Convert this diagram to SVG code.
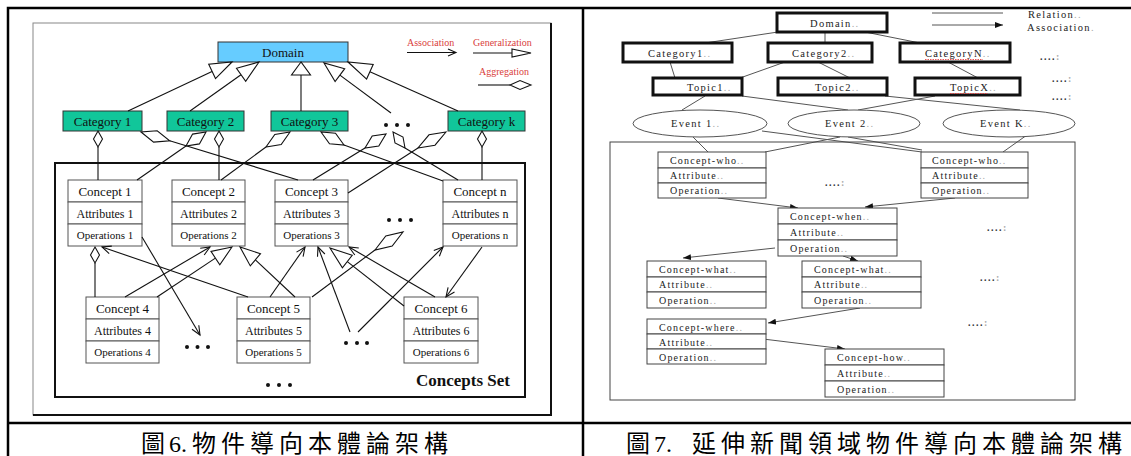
<svg xmlns="http://www.w3.org/2000/svg" width="1131" height="456" viewBox="0 0 1131 456">
  <style>
    .tbl { fill: none; stroke: #000; stroke-width: 2.5; }
    .frame { fill: none; stroke: #888; stroke-width: 1; }
    .shadow { fill: none; stroke: #111; stroke-width: 2; }
    .lt { font-family: "Liberation Serif", serif; font-size: 13px; fill: #111; text-anchor: middle; }
    .ls { font-size: 11px; }
    .la { font-size: 12px; }
    .leg { font-family: "Liberation Serif", serif; font-size: 10px; fill: #d9413c; }
    .dom { fill: #66ccff; stroke: #333; stroke-width: 1; }
    .cat { fill: #11c69a; stroke: #333; stroke-width: 1; }
    .cbox { fill: #fff; stroke: #555; stroke-width: 1; }
    .cset { fill: none; stroke: #111; stroke-width: 2; }
    .ln { fill: none; stroke: #111; stroke-width: 1.1; }
    .gen, .agg { fill: #fff; stroke: #111; stroke-width: 1.1; }
    .asc { fill: none; stroke: #111; stroke-width: 1.1; }
    .dot { fill: #111; }
    .bold { font-weight: bold; font-size: 17px; }
    .rt { font-family: "Liberation Serif", serif; font-size: 10.5px; fill: #222; letter-spacing: 1.3px; }
    .rc { font-size: 10px; letter-spacing: 1.2px; }
    .pm { fill: #aaa; }
    .hbox { fill: #fff; stroke: #111; stroke-width: 3; }
    .rbox { fill: #fff; stroke: #444; stroke-width: 1; }
    .ev { fill: #fff; stroke: #555; stroke-width: 1; }
    .rl { fill: none; stroke: #555; stroke-width: 1; }
    .rfr { fill: none; stroke: #444; stroke-width: 1; }
    .ldr { font-family: "Liberation Serif", serif; font-size: 10px; font-weight: bold; fill: #333; letter-spacing: 1.5px; }
    .squig { fill: none; stroke: #e03030; stroke-width: 0.8; stroke-dasharray: 1.5 1; }
    .cap { font-family: "Liberation Serif", "Noto Sans CJK TC", serif; font-size: 24px; fill: #000; }
    .cj { letter-spacing: 5px; }
  </style>
  <defs>
    <marker id="fill-arrow" viewBox="0 0 8 6" refX="8" refY="3" markerWidth="8" markerHeight="6" markerUnits="userSpaceOnUse" orient="auto">
      <path d="M0,0 L8,3 L0,6 z" fill="#111"/>
    </marker>
  </defs>

  <rect width="1131" height="456" fill="#fff"/>

  <!-- table grid -->
  <g id="table">
    <path class="tbl" d="M8,470 V8 H1135"/>
    <path class="tbl" d="M583,8 V470"/>
    <path class="tbl" d="M8,423 H1135"/>
  </g>

  <!-- ===== Figure 6: object-oriented ontology ===== -->
  <g id="fig6">
    <rect class="frame" x="33" y="23" width="518" height="392"/>
    <path class="shadow" d="M551,23 V415 H33"/>

    <g id="legend6">
      <text class="leg" x="407" y="46">Association</text>
      <path class="ln" d="M407,52.5 H455"/>
      <path class="asc" d="M448,49 L456,52.5 L448,56"/>
      <text class="leg" x="473" y="46">Generalization</text>
      <path class="ln" d="M473,53 H512"/>
      <polygon class="gen" points="512,49 531,53 512,57"/>
      <text class="leg" x="479" y="75">Aggregation</text>
      <path class="ln" d="M478,85 H510"/>
      <polygon class="agg" points="510,85 520,80.5 531,85 520,89.5"/>
    </g>

    <g id="n-domain">
      <rect class="dom" x="218" y="42" width="130" height="20"/>
      <text class="lt" x="283" y="56.5">Domain</text>
    </g>
    <g id="n-cat1">
      <rect class="cat" x="63" y="111" width="79" height="20"/>
      <text class="lt" x="102.5" y="125.5">Category 1</text>
    </g>
    <g id="n-cat2">
      <rect class="cat" x="167" y="111" width="77" height="20"/>
      <text class="lt" x="205.5" y="125.5">Category 2</text>
    </g>
    <g id="n-cat3">
      <rect class="cat" x="271" y="111" width="77" height="20"/>
      <text class="lt" x="309.5" y="125.5">Category 3</text>
    </g>
    <g id="n-catdots">
      <circle class="dot" cx="386" cy="125" r="2"/>
      <circle class="dot" cx="397" cy="125" r="2"/>
      <circle class="dot" cx="408" cy="125" r="2"/>
    </g>
    <g id="n-catk">
      <rect class="cat" x="448" y="111" width="77" height="20"/>
      <text class="lt" x="486.5" y="125.5">Category k</text>
    </g>

    <g id="n-conceptset">
      <rect class="cset" x="55" y="163" width="470" height="234"/>
      <text class="lt bold" x="463" y="386">Concepts Set</text>
    </g>

    <g id="n-concept1">
      <rect class="cbox" x="68" y="180" width="74" height="22"/>
      <rect class="cbox" x="68" y="202" width="74" height="22"/>
      <rect class="cbox" x="68" y="224" width="74" height="22"/>
      <text class="lt" x="105" y="195.5">Concept 1</text>
      <text class="lt la" x="105" y="217.5">Attributes 1</text>
      <text class="lt ls" x="105" y="239">Operations 1</text>
    </g>
    <g id="n-concept2">
      <rect class="cbox" x="172" y="180" width="73" height="22"/>
      <rect class="cbox" x="172" y="202" width="73" height="22"/>
      <rect class="cbox" x="172" y="224" width="73" height="22"/>
      <text class="lt" x="208.5" y="195.5">Concept 2</text>
      <text class="lt la" x="208.5" y="217.5">Attributes 2</text>
      <text class="lt ls" x="208.5" y="239">Operations 2</text>
    </g>
    <g id="n-concept3">
      <rect class="cbox" x="275" y="180" width="73" height="22"/>
      <rect class="cbox" x="275" y="202" width="73" height="22"/>
      <rect class="cbox" x="275" y="224" width="73" height="22"/>
      <text class="lt" x="311.5" y="195.5">Concept 3</text>
      <text class="lt la" x="311.5" y="217.5">Attributes 3</text>
      <text class="lt ls" x="311.5" y="239">Operations 3</text>
    </g>
    <g id="n-conceptn">
      <rect class="cbox" x="443" y="180" width="74" height="22"/>
      <rect class="cbox" x="443" y="202" width="74" height="22"/>
      <rect class="cbox" x="443" y="224" width="74" height="22"/>
      <text class="lt" x="480" y="195.5">Concept n</text>
      <text class="lt la" x="480" y="217.5">Attributes n</text>
      <text class="lt ls" x="480" y="239">Operations n</text>
    </g>
    <g id="n-concept4">
      <rect class="cbox" x="86" y="297" width="73" height="22"/>
      <rect class="cbox" x="86" y="319" width="73" height="22"/>
      <rect class="cbox" x="86" y="341" width="73" height="22"/>
      <text class="lt" x="122.5" y="312.5">Concept 4</text>
      <text class="lt la" x="122.5" y="334.5">Attributes 4</text>
      <text class="lt ls" x="122.5" y="356">Operations 4</text>
    </g>
    <g id="n-concept5">
      <rect class="cbox" x="237" y="297" width="73" height="22"/>
      <rect class="cbox" x="237" y="319" width="73" height="22"/>
      <rect class="cbox" x="237" y="341" width="73" height="22"/>
      <text class="lt" x="273.5" y="312.5">Concept 5</text>
      <text class="lt la" x="273.5" y="334.5">Attributes 5</text>
      <text class="lt ls" x="273.5" y="356">Operations 5</text>
    </g>
    <g id="n-concept6">
      <rect class="cbox" x="404" y="297" width="74" height="22"/>
      <rect class="cbox" x="404" y="319" width="74" height="22"/>
      <rect class="cbox" x="404" y="341" width="74" height="22"/>
      <text class="lt" x="441" y="312.5">Concept 6</text>
      <text class="lt la" x="441" y="334.5">Attributes 6</text>
      <text class="lt ls" x="441" y="356">Operations 6</text>
    </g>
    <g id="n-dots-mid">
      <circle class="dot" cx="389" cy="220" r="2"/>
      <circle class="dot" cx="400" cy="220" r="2"/>
      <circle class="dot" cx="411" cy="220" r="2"/>
    </g>
    <g id="n-dots-c4">
      <circle class="dot" cx="187" cy="347" r="2"/>
      <circle class="dot" cx="197.5" cy="347" r="2"/>
      <circle class="dot" cx="208" cy="347" r="2"/>
    </g>
    <g id="n-dots-c56">
      <circle class="dot" cx="346" cy="343" r="2"/>
      <circle class="dot" cx="357" cy="343" r="2"/>
      <circle class="dot" cx="367" cy="343" r="2"/>
    </g>
    <g id="n-dots-bottom">
      <circle class="dot" cx="268" cy="385" r="2"/>
      <circle class="dot" cx="279" cy="385" r="2"/>
      <circle class="dot" cx="290" cy="385" r="2"/>
    </g>

    <g id="edges6">
      <!-- generalization: categories to domain -->
      <path class="ln" d="M128,111 L212,71.4"/>
      <polygon class="gen" points="232,62 215.5,78.6 208.7,64.2"/>
      <path class="ln" d="M190,111 L241,74.7"/>
      <polygon class="gen" points="259,62 245.7,81.2 236.5,68.2"/>
      <path class="ln" d="M301,111 V75"/>
      <polygon class="gen" points="301,62 291.5,75 310.5,75"/>
      <path class="ln" d="M391,113 L339.9,75.1"/>
      <polygon class="gen" points="324,63 335.1,81.5 344.7,68.7"/>
      <path class="ln" d="M458,111 L369.9,71.8"/>
      <polygon class="gen" points="348,62 366.6,79.1 373.2,64.5"/>

      <!-- aggregation: categories to concepts -->
      <path class="ln" d="M98,147 V180"/>
      <polygon class="agg" points="98,131 102.5,139 98,147 93.5,139"/>
      <path class="ln" d="M169.7,140.8 L298,180"/>
      <polygon class="agg" points="141,132 153.6,142.1 169.7,140.8 157.2,130.7"/>
      <path class="ln" d="M186,146 L137,180"/>
      <polygon class="agg" points="206,132 199.4,143.9 186,146 192.6,134.1"/>
      <path class="ln" d="M219,147 V180"/>
      <polygon class="agg" points="219,131 223.5,139 219,147 214.5,139"/>
      <path class="ln" d="M266,147 L221,180"/>
      <polygon class="agg" points="290,132 281.2,144.6 266,147 274.8,134.4"/>
      <path class="ln" d="M344,145 L443,181"/>
      <polygon class="agg" points="321,132 329.5,143.7 344,145 335.5,133.3"/>
      <path class="ln" d="M365,148 L313,180"/>
      <polygon class="agg" points="386,134 378.8,146 365,148 372.2,136"/>
      <path class="ln" d="M405,148 L458,180"/>
      <polygon class="agg" points="393,132 395,143 405,148 403,137"/>
      <path class="ln" d="M418,148 L348,193"/>
      <polygon class="agg" points="446,132 435,145.2 418,148 429,134.8"/>
      <path class="ln" d="M482,147 V180"/>
      <polygon class="agg" points="482,131 486.5,139 482,147 477.5,139"/>

      <!-- aggregation between concepts -->
      <path class="ln" d="M95,263 V297"/>
      <polygon class="agg" points="95,247 99.5,255 95,263 90.5,255"/>
      <path class="ln" d="M375,250 L312,297"/>
      <polygon class="agg" points="403,232 392.2,246 375,250 385.8,236"/>

      <!-- generalization between concepts -->
      <path class="ln" d="M157,297 L215.4,258.1"/>
      <polygon class="gen" points="232,247 219.8,264.8 211,251.4"/>
      <path class="ln" d="M295,297 L255.4,259.8"/>
      <polygon class="gen" points="240,247 250.3,265.9 260.5,253.7"/>
      <path class="ln" d="M347.3,261.6 L404,306"/>
      <polygon class="gen" points="330,248 342.4,267.9 352.2,255.3"/>

      <!-- associations -->
      <path class="ln" d="M142,237 L200,335"/>
      <path class="asc" d="M192,329.3 L200,335 L198.8,325.3"/>
      <path class="ln" d="M248,297 L102,247"/>
      <path class="asc" d="M111.8,246.1 L102,247 L109.2,253.7"/>
      <path class="ln" d="M125,297 L210,247"/>
      <path class="asc" d="M204.2,255 L210,247 L200.2,248.2"/>
      <path class="ln" d="M270,297 L305,247"/>
      <path class="asc" d="M303.1,256.7 L305,247 L296.5,252.1"/>
      <path class="ln" d="M350,332 L318,247"/>
      <path class="asc" d="M324.9,254 L318,247 L317.5,256.8"/>
      <path class="ln" d="M435,297 L349,247"/>
      <path class="asc" d="M358.8,248 L349,247 L354.8,255"/>
      <path class="ln" d="M482,247 L446,297"/>
      <path class="asc" d="M448.1,287.4 L446,297 L454.5,292"/>
      <path class="ln" d="M358,332 L443,247"/>
      <path class="asc" d="M439.4,256.2 L443,247 L433.8,250.6"/>
    </g>
  </g>

  <!-- ===== Figure 7: news-domain ontology ===== -->
  <g id="fig7">
    <g id="legend7">
      <path class="rl" d="M932,13 H1003"/>
      <path class="rl" d="M932,25 H1003" marker-end="url(#fill-arrow)"/>
      <text class="rt" x="1028" y="18">Relation<tspan class="pm">..</tspan></text>
      <text class="rt" x="1027" y="31">Association<tspan class="pm">.</tspan></text>
    </g>

    <g id="edges7">
      <path class="rl" d="M778,32 L705,43"/>
      <path class="rl" d="M825,32 V43"/>
      <path class="rl" d="M865,32 L920,43"/>
      <path class="rl" d="M670,62 L675,78"/>
      <path class="rl" d="M785,62 L740,78"/>
      <path class="rl" d="M818,62 L850,78"/>
      <path class="rl" d="M948,62 L978,78"/>
      <path class="rl" d="M705,96 L682,110"/>
      <path class="rl" d="M742,96 L848,110"/>
      <path class="rl" d="M885,96 L1020,110"/>
      <path class="rl" d="M935,96 L858,110"/>
      <path class="rl" d="M693,137 L708,152"/>
      <path class="rl" d="M762,131 L922,152"/>
      <path class="rl" d="M840,137 L765,152"/>
      <path class="rl" d="M848,137 L922,150"/>
      <path class="rl" d="M1027,135 L1003,152"/>
      <path class="rl" d="M718,198 L798,208" marker-end="url(#fill-arrow)"/>
      <path class="rl" d="M955,198 L865,207" marker-end="url(#fill-arrow)"/>
      <path class="rl" d="M775,248 L683,258" marker-end="url(#fill-arrow)"/>
      <path class="rl" d="M843,256 L858,261" marker-end="url(#fill-arrow)"/>
      <path class="rl" d="M860,308 L768,323" marker-end="url(#fill-arrow)"/>
      <path class="rl" d="M763,339 L845,349" marker-end="url(#fill-arrow)"/>
    </g>

    <g id="r-domain">
      <rect class="hbox" x="777" y="13" width="110" height="19"/>
      <text class="rt" x="810" y="27">Domain<tspan class="pm">..</tspan></text>
    </g>
    <g id="r-cat1">
      <rect class="hbox" x="623" y="43" width="109" height="19"/>
      <text class="rt" x="648" y="57">Category1<tspan class="pm">..</tspan></text>
    </g>
    <g id="r-cat2">
      <rect class="hbox" x="768" y="43" width="104" height="19"/>
      <text class="rt" x="792" y="57">Category2<tspan class="pm">..</tspan></text>
    </g>
    <g id="r-catn">
      <rect class="hbox" x="900" y="43" width="110" height="19"/>
      <text class="rt" x="925" y="57">CategoryN<tspan class="pm">..</tspan></text>
      <path class="squig" d="M925,59.5 H983"/>
    </g>
    <g id="r-topic1">
      <rect class="hbox" x="653" y="78" width="89" height="17"/>
      <text class="rt" x="687" y="91">Topic1<tspan class="pm">..</tspan></text>
    </g>
    <g id="r-topic2">
      <rect class="hbox" x="778" y="78" width="109" height="17"/>
      <text class="rt" x="815" y="91">Topic2<tspan class="pm">..</tspan></text>
    </g>
    <g id="r-topicx">
      <rect class="hbox" x="915" y="78" width="105" height="17"/>
      <text class="rt" x="950" y="91">TopicX<tspan class="pm">..</tspan></text>
      <path class="squig" d="M950,93.5 H988"/>
    </g>
    <g id="r-leaders">
      <text class="ldr" x="1040" y="60">....<tspan class="pm">:</tspan></text>
      <text class="ldr" x="1052" y="82">....<tspan class="pm">:</tspan></text>
      <text class="ldr" x="1052" y="100">....<tspan class="pm">:</tspan></text>
      <text class="ldr" x="825" y="186">....<tspan class="pm">:</tspan></text>
      <text class="ldr" x="987" y="231">....<tspan class="pm">:</tspan></text>
      <text class="ldr" x="980" y="281">....<tspan class="pm">:</tspan></text>
      <text class="ldr" x="968" y="326">....<tspan class="pm">:</tspan></text>
    </g>
    <g id="r-event1">
      <ellipse class="ev" cx="700" cy="123.5" rx="67" ry="13.5"/>
      <text class="rt" x="671" y="127">Event 1<tspan class="pm">..</tspan></text>
    </g>
    <g id="r-event2">
      <ellipse class="ev" cx="854" cy="123.5" rx="66" ry="13.5"/>
      <text class="rt" x="825" y="127">Event 2<tspan class="pm">..</tspan></text>
    </g>
    <g id="r-eventk">
      <ellipse class="ev" cx="1009" cy="123.5" rx="66" ry="13.5"/>
      <text class="rt" x="980" y="127">Event K<tspan class="pm">..</tspan></text>
    </g>

    <rect id="r-frame" class="rfr" x="610" y="142" width="465" height="258"/>

    <g id="r-who1">
      <rect class="rbox" x="658" y="152" width="108" height="16"/>
      <rect class="rbox" x="658" y="168" width="108" height="15"/>
      <rect class="rbox" x="658" y="183" width="108" height="15"/>
      <text class="rt rc" x="670" y="164">Concept-who<tspan class="pm">..</tspan></text>
      <text class="rt rc" x="670" y="179">Attribute<tspan class="pm">..</tspan></text>
      <text class="rt rc" x="670" y="194">Operation<tspan class="pm">..</tspan></text>
    </g>
    <g id="r-who2">
      <rect class="rbox" x="921" y="152" width="107" height="16"/>
      <rect class="rbox" x="921" y="168" width="107" height="15"/>
      <rect class="rbox" x="921" y="183" width="107" height="15"/>
      <text class="rt rc" x="932" y="164">Concept-who<tspan class="pm">..</tspan></text>
      <text class="rt rc" x="932" y="179">Attribute<tspan class="pm">..</tspan></text>
      <text class="rt rc" x="932" y="194">Operation<tspan class="pm">..</tspan></text>
    </g>
    <g id="r-when">
      <rect class="rbox" x="778" y="208" width="119" height="16"/>
      <rect class="rbox" x="778" y="224" width="119" height="16"/>
      <rect class="rbox" x="778" y="240" width="119" height="16"/>
      <text class="rt rc" x="790" y="220">Concept-when<tspan class="pm">..</tspan></text>
      <text class="rt rc" x="790" y="236">Attribute<tspan class="pm">..</tspan></text>
      <text class="rt rc" x="790" y="252">Operation<tspan class="pm">..</tspan></text>
    </g>
    <g id="r-what1">
      <rect class="rbox" x="647" y="261" width="119" height="16"/>
      <rect class="rbox" x="647" y="277" width="119" height="15"/>
      <rect class="rbox" x="647" y="292" width="119" height="16"/>
      <text class="rt rc" x="659" y="273">Concept-what<tspan class="pm">..</tspan></text>
      <text class="rt rc" x="659" y="288">Attribute<tspan class="pm">..</tspan></text>
      <text class="rt rc" x="659" y="304">Operation<tspan class="pm">..</tspan></text>
    </g>
    <g id="r-what2">
      <rect class="rbox" x="802" y="261" width="119" height="16"/>
      <rect class="rbox" x="802" y="277" width="119" height="15"/>
      <rect class="rbox" x="802" y="292" width="119" height="16"/>
      <text class="rt rc" x="814" y="273">Concept-what<tspan class="pm">..</tspan></text>
      <text class="rt rc" x="814" y="288">Attribute<tspan class="pm">..</tspan></text>
      <text class="rt rc" x="814" y="304">Operation<tspan class="pm">..</tspan></text>
    </g>
    <g id="r-where">
      <rect class="rbox" x="647" y="319" width="119" height="15"/>
      <rect class="rbox" x="647" y="334" width="119" height="15"/>
      <rect class="rbox" x="647" y="349" width="119" height="15"/>
      <text class="rt rc" x="659" y="331">Concept-where<tspan class="pm">..</tspan></text>
      <text class="rt rc" x="659" y="346">Attribute<tspan class="pm">..</tspan></text>
      <text class="rt rc" x="659" y="361">Operation<tspan class="pm">..</tspan></text>
    </g>
    <g id="r-how">
      <rect class="rbox" x="825" y="349" width="119" height="16"/>
      <rect class="rbox" x="825" y="365" width="119" height="16"/>
      <rect class="rbox" x="825" y="381" width="119" height="16"/>
      <text class="rt rc" x="837" y="361">Concept-how<tspan class="pm">..</tspan></text>
      <text class="rt rc" x="837" y="377">Attribute<tspan class="pm">..</tspan></text>
      <text class="rt rc" x="837" y="393">Operation<tspan class="pm">..</tspan></text>
    </g>
  </g>

  <!-- captions -->
  <g id="captions">
    <text class="cap" y="452"><tspan x="141">圖 </tspan><tspan x="169">6. </tspan><tspan class="cj" x="192">物件導向本體論架構</tspan></text>
    <text class="cap" y="452"><tspan x="626">圖 </tspan><tspan x="654">7. </tspan><tspan class="cj" x="692">延伸新聞領域物件導向本體論架構</tspan></text>
  </g>
</svg>
